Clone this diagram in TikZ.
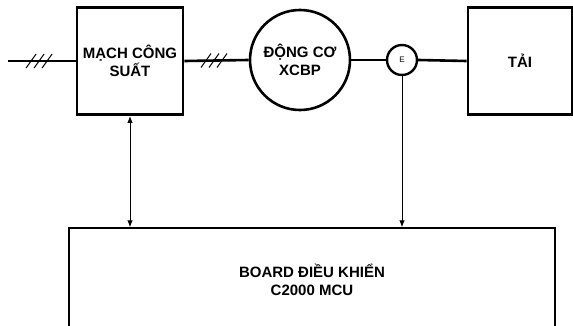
\documentclass[tikz,border=0pt]{standalone}
\usepackage{fontspec}
\setmainfont{Liberation Sans}
\usetikzlibrary{arrows.meta,calc}
\begin{document}
\begin{tikzpicture}[x=1pt,y=-1pt,
  blockbox/.style={draw=black,line width=2.8pt,rectangle,inner sep=0pt,align=center,
    font=\fontsize{15}{18}\selectfont\bfseries},
  motorbox/.style={draw=black,line width=2.6pt,circle,inner sep=0pt,align=center,
    font=\fontsize{15}{18}\selectfont\bfseries},
  encbox/.style={draw=black,line width=2.4pt,circle,inner sep=0pt,minimum size=30pt,
    font=\fontsize{8}{9}\selectfont},
  boardbox/.style={draw=black,line width=1.4pt,rectangle,inner sep=0pt,align=center,
    font=\fontsize{15}{18}\selectfont\bfseries},
  powerline/.style={line width=2.6pt},
  siglink/.style={line width=1pt,arrows={-Latex[length=7pt,width=5.5pt]}},
  hatchmark/.pic={\foreach \dx in {-8,0,8} \draw[line width=1pt] (\dx-5,7) -- (\dx+5,-7);}
]
\useasboundingbox (0,0) rectangle (573,326);
\node[blockbox,minimum width=106pt,minimum height=107pt] (mach) at (130,61) {MẠCH CÔNG\\SUẤT};
\node[motorbox,minimum size=100pt] (motor) at (300,60) {ĐỘNG CƠ\\XCBP};
\node[encbox] (enc) at (402,60) {E};
\node[blockbox,minimum width=104pt,minimum height=107pt] (tai) at (520,61) {TẢI};
\node[boardbox,minimum width=486pt,minimum height=110pt] (board) at (312,283) {};
\node[font=\fontsize{15}{18}\selectfont\bfseries,align=center] (boardtxt) at (312,280) {BOARD ĐIỀU KHIỂN\\C2000 MCU};
\coordinate (src) at (8,61);
\draw[powerline] (src) -- (mach.west) pic[pos=0.46]{hatchmark};
\draw[powerline] (mach.east) -- (motor.west) pic[pos=0.46]{hatchmark};
\draw[powerline] (motor.east) -- (enc.west);
\draw[powerline] (enc.east) -- (tai.west);
\draw[siglink,arrows={Latex[length=7pt,width=5.5pt]-Latex[length=7pt,width=5.5pt]}] (mach.south) -- (mach.south |- board.north);
\draw[siglink] (enc.south) -- (enc.south |- board.north);
\end{tikzpicture}
\end{document}
